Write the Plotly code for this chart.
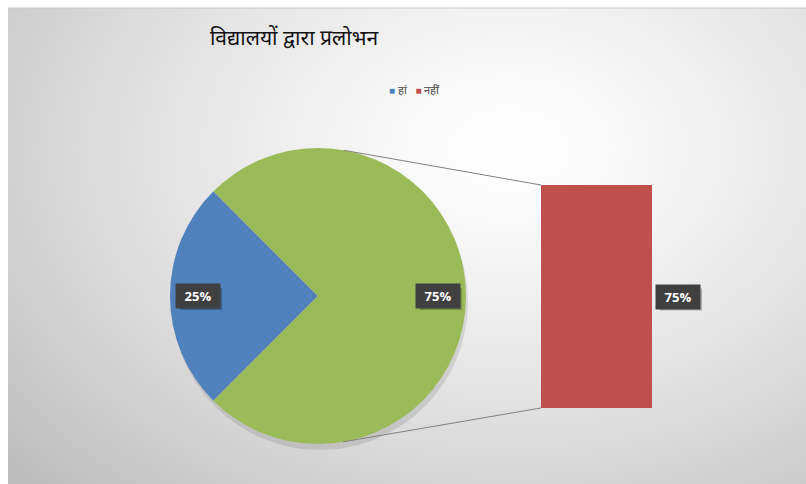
import base64, struct, zlib, math
import numpy as np
import plotly.graph_objects as go

# ---- data ----
title_text = "विद्यालयों द्वारा प्रलोभन"
legend_labels = ["हां", "नहीं"]
pie_labels = ["हां", "अन्य"]
pie_values = [25, 75]
bar_labels = ["नहीं"]
bar_values = [75]
colors = {"हां": "#4F81BD", "अन्य": "#9BBB59", "नहीं": "#C0504D"}

W, H = 806, 484

# ---- background gradient image ----
def png_uri(arr):
    h, w, _ = arr.shape
    raw = b"".join(b"\x00" + arr[i].tobytes() for i in range(h))
    def chunk(t, d):
        c = struct.pack(">I", len(d)) + t + d
        return c + struct.pack(">I", zlib.crc32(t + d) & 0xffffffff)
    png = b"\x89PNG\r\n\x1a\n" + chunk(b"IHDR", struct.pack(">IIBBBBB", w, h, 8, 2, 0, 0, 0)) \
        + chunk(b"IDAT", zlib.compress(raw, 9)) + chunk(b"IEND", b"")
    return "data:image/png;base64," + base64.b64encode(png).decode()

bw, bh = 798, 476
yy, xx = np.mgrid[0:bh, 0:bw]
t = np.sqrt(((xx - 500) / 560.0) ** 2 + ((yy - 140) / 400.0) ** 2)
t = np.clip(t, 0, 1.2)
v = 255 - 52 * t ** 1.3
img = np.repeat(np.clip(v, 0, 255).astype(np.uint8)[:, :, None], 3, axis=2)
bg_uri = png_uri(img)

# ---- geometry ----
pcx, pcy, pr = 318, 296, 148          # pie centre / radius in px
bar_x0, bar_x1, bar_top, bar_bot = 541, 652, 185, 408

def px2paper(x, y):
    return x / W, 1 - y / H

fig = go.Figure()

dom_x = [(pcx - pr) / W, (pcx + pr) / W]
dom_y = [1 - (pcy + pr) / H, 1 - (pcy - pr) / H]
rotation = -135
fig.add_trace(go.Pie(
    labels=pie_labels, values=pie_values, sort=False, direction="counterclockwise",
    rotation=rotation, marker=dict(colors=[colors[l] for l in pie_labels]),
    textinfo="none", hoverinfo="label+percent", showlegend=False,
    domain=dict(x=dom_x, y=dom_y)))

fig.add_trace(go.Bar(
    x=[0], y=bar_values, marker=dict(color=colors["नहीं"], line=dict(width=0)),
    width=1, showlegend=False, name="नहीं"))

fig.update_layout(
    xaxis=dict(domain=[bar_x0 / W, bar_x1 / W], range=[-0.5, 0.5], visible=False, fixedrange=True),
    yaxis=dict(domain=[1 - bar_bot / H, 1 - bar_top / H], range=[0, sum(bar_values)], visible=False, fixedrange=True),
)

shapes = []

# label boxes (pixel centre) with a soft shadow
BW, BH = 42, 22
def box(cx_px, cy_px, text):
    x0, y1 = px2paper(cx_px - BW / 2 + 3, cy_px - BH / 2 + 3)
    x1, y0 = px2paper(cx_px + BW / 2 + 3, cy_px + BH / 2 + 3)
    shapes.append(dict(type="rect", xref="paper", yref="paper", x0=x0, x1=x1, y0=y0, y1=y1,
                       fillcolor="rgba(0,0,0,0.25)", line=dict(width=0), layer="above"))
    px, py = px2paper(cx_px, cy_px)
    fig.add_annotation(x=px, y=py, xref="paper", yref="paper", text="<b>" + text + "</b>",
                       showarrow=False, width=BW, height=BH, xanchor="center", yanchor="middle",
                       bgcolor="#404040", font=dict(color="white", size=13, family="Open Sans"))

total = sum(pie_values)
start = 90 - rotation
acc = 0
for lab, val in zip(pie_labels, pie_values):
    mid = math.radians(start - (acc + val / 2) / total * 360)
    acc += val
    box(pcx + 0.81 * pr * math.cos(mid), pcy - 0.81 * pr * math.sin(mid),
        f"{round(val / total * 100)}%")

bar_mid_px = bar_bot - (bar_values[0] / 2) / sum(bar_values) * (bar_bot - bar_top)
box(bar_x1 + 5 + BW / 2, bar_mid_px, f"{round(bar_values[0] / total * 100)}%")

# connector lines (tangents from bar corners to pie)
for (bx, by, sgn) in [(bar_x0, bar_top, 1), (bar_x0, bar_bot, -1)]:
    dx, dy = bx - pcx, pcy - by
    d = math.hypot(dx, dy)
    ang = math.atan2(dy, dx) + sgn * math.acos(pr / d)
    tx = pcx + pr * math.cos(ang)
    ty = pcy - pr * math.sin(ang)
    x0, y0 = px2paper(tx, ty)
    x1, y1 = px2paper(bx, by)
    shapes.append(dict(type="line", xref="paper", yref="paper", x0=x0, y0=y0, x1=x1, y1=y1,
                       line=dict(color="#808080", width=1)))
# pie shadow
sx0, sy0 = px2paper(pcx - pr + 2, pcy + pr + 6)
sx1, sy1 = px2paper(pcx + pr + 2, pcy - pr + 6)
shapes.append(dict(type="circle", xref="paper", yref="paper", x0=sx0, y0=sy0, x1=sx1, y1=sy1,
                   fillcolor="rgba(0,0,0,0.10)", line=dict(width=0), layer="below"))
# frame line
shapes.append(dict(type="line", xref="paper", yref="paper", x0=8 / W, x1=1, y0=1 - 8 / H, y1=1 - 8 / H,
                   line=dict(color="#c8c8c8", width=1), layer="below"))

# legend (compact, Excel-like)
leg_parts = [f"<span style='color:{colors[l]};font-size:10px'>■</span> {l}" for l in legend_labels]
fig.add_annotation(x=414 / W, y=1 - 90 / H, xref="paper", yref="paper", showarrow=False,
                   xanchor="center", yanchor="middle",
                   text="   ".join(leg_parts), font=dict(size=11, color="#404040"))

fig.update_layout(
    width=W, height=H, margin=dict(l=0, r=0, t=0, b=0),
    paper_bgcolor="white", plot_bgcolor="rgba(0,0,0,0)", showlegend=False,
    images=[dict(source=bg_uri, xref="paper", yref="paper", x=8 / W, y=1 - 8 / H,
                 sizex=1 - 8 / W, sizey=1 - 8 / H, sizing="stretch", xanchor="left",
                 yanchor="top", layer="below")],
    shapes=shapes,
    title=dict(text=title_text, x=294 / W, xanchor="center", y=1 - 38 / H, yanchor="middle",
               font=dict(size=21, color="#111111", family="Noto Sans")),
)

fig.write_html("out.html")
